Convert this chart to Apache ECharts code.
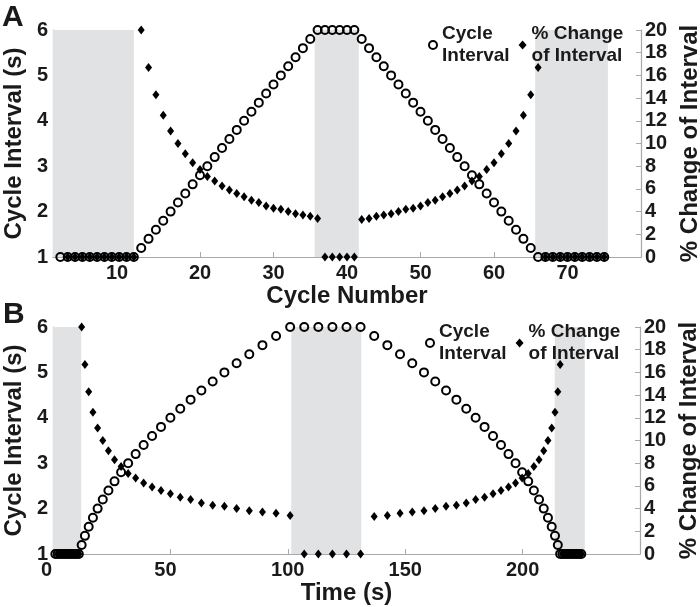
<!DOCTYPE html>
<html><head><meta charset="utf-8">
<script src="https://cdn.jsdelivr.net/npm/echarts@6/dist/echarts.min.js"></script>
<style>html,body{margin:0;padding:0;background:#fff}#c{width:700px;height:607px}</style>
</head><body><div id="c"></div>
<script>
// ---- data ----
const cycleNumbers = [1,2,3,4,5,6,7,8,9,10,11,12,13,14,15,16,17,18,19,20,21,22,23,24,25,26,27,28,29,30,31,32,33,34,35,36,37,38,39,40,41,42,43,44,45,46,47,48,49,50,51,52,53,54,55,56,57,58,59,60,61,62,63,64,65,66,67,68,69,70,71,72,73,74,75];
const cycleInterval = [1,1,1,1,1,1,1,1,1,1,1,
  1.2,1.4,1.6,1.8,2.0,2.2,2.4,2.6,2.8,3.0,3.2,3.4,3.6,3.8,4.0,4.2,4.4,4.6,4.8,5.0,5.2,5.4,5.6,5.8,
  6,6,6,6,6,6,
  5.8,5.6,5.4,5.2,5.0,4.8,4.6,4.4,4.2,4.0,3.8,3.6,3.4,3.2,3.0,2.8,2.6,2.4,2.2,2.0,1.8,1.6,1.4,1.2,
  1,1,1,1,1,1,1,1,1,1];
const pctChange = [null,0,0,0,0,0,0,0,0,0,0,
  20,16.7,14.3,12.5,11.1,10,9.1,8.3,7.7,7.1,6.7,6.25,5.9,5.6,5.3,5.0,4.8,4.5,4.3,4.2,4.0,3.8,3.7,3.6,3.4,
  0,0,0,0,0,
  3.3,3.4,3.6,3.7,3.8,4.0,4.2,4.3,4.5,4.8,5.0,5.3,5.6,5.9,6.25,6.7,7.1,7.7,8.3,9.1,10,11.1,12.5,14.3,16.7,
  0,0,0,0,0,0,0,0,0];
const timeSec = [1,2,3,4,5,6,7,8,9,10,11,
  12.2,13.6,15.2,17.0,19.0,21.2,23.6,26.2,29.0,32.0,35.2,38.6,42.2,46.0,50.0,54.2,58.6,63.2,68.0,73.0,78.2,83.6,89.2,95.0,
  101,107,113,119,125,131,
  136.8,142.4,147.8,153.0,158.0,162.8,167.4,171.8,176.0,180.0,183.8,187.4,190.8,194.0,197.0,199.8,202.4,204.8,207.0,209.0,210.8,212.4,213.8,215.0,
  216,217,218,219,220,221,222,223,224,225];
const shadedCycles = [[0,11],[35.6,41.6],[65.6,75.5]];
const shadedTime = [[0,12],[101.5,131.3],[213.7,226.5]];
const xTickLabelsA = [10,20,30,40,50,60,70];
const xTickLabelsB = [0,50,100,150,200];
const leftTickLabels = [1,2,3,4,5,6];
const rightTickLabels = [0,2,4,6,8,10,12,14,16,18,20];
const seriesNames = ['Cycle Interval','% Change of Interval'];
const legendText = {'Cycle Interval':'Cycle\nInterval','% Change of Interval':'% Change\nof Interval'};

// ---- styling ----
const F = '"Liberation Sans", Arial, Helvetica, sans-serif';
const AX = '#a9a9a9';
const TXT = '#1a1a1a';
const labelBase = {color:TXT, fontSize:20, fontWeight:'bold', fontFamily:F};

function richFor(pads){
  const r = {};
  pads.forEach(p => { r['p'+p] = Object.assign({padding:[0,p,0,0]}, labelBase); });
  return r;
}
function xAxisDef(gi, min, max, interval, labels, shifts, name){
  return {
    type:'value', gridIndex:gi, min, max, interval,
    name, nameLocation:'middle', nameGap:25,
    nameTextStyle:{color:TXT, fontSize:24, fontWeight:'bold', fontFamily:F},
    axisLine:{show:true, onZero:false, lineStyle:{color:AX, width:1.2}},
    axisTick:{show:true, inside:true, length:5, lineStyle:{color:AX}},
    splitLine:{show:false},
    axisLabel:Object.assign({margin:6, showMinLabel:true, showMaxLabel:true,
      formatter: v => labels.includes(v) ? (shifts[v] ? '{p'+shifts[v]+'|'+v+'}' : String(v)) : '',
      rich: richFor(Object.values(shifts))}, labelBase)
  };
}
function yAxisDef(gi, pos, min, max, interval, labels, name, gap){
  return {
    type:'value', gridIndex:gi, position:pos, min, max, interval,
    name, nameLocation:'middle', nameGap:gap,
    nameTextStyle:{color:TXT, fontSize:24, fontWeight:'bold', fontFamily:F},
    axisLine:{show:true, onZero:false, lineStyle:{color:AX, width:1.2}},
    axisTick:{show:true, inside:true, length:5, lineStyle:{color:AX}},
    splitLine:{show:false},
    axisLabel:Object.assign({margin:pos==='left'?5:4,
      formatter: v => labels.includes(v) ? String(v) : ''}, labelBase)
  };
}
function legendDef(left, top){
  return {
    left, top, orient:'horizontal', selectedMode:false,
    itemWidth:8, itemHeight:9, itemGap:9,
    data: seriesNames,
    formatter: n => legendText[n],
    textStyle:{color:TXT, fontSize:19, fontWeight:'bold', fontFamily:F, lineHeight:22}
  };
}
function circleSeries(xi, yi, xs, shaded){
  return {
    type:'scatter', name:seriesNames[0], xAxisIndex:xi, yAxisIndex:yi,
    symbol:'circle', symbolSize:8,
    itemStyle:{color:'rgba(255,255,255,0)', borderColor:'#000', borderWidth:2, opacity:1},
    data: xs.map((x,i)=>[x, cycleInterval[i]]),
    markArea:{silent:true, itemStyle:{color:'#e1e2e4', opacity:1},
      data: shaded.map(([a,b]) => [{xAxis:a},{xAxis:b}])}
  };
}
function diamondSeries(xi, yi, xs){
  return {
    type:'scatter', name:seriesNames[1], xAxisIndex:xi, yAxisIndex:yi,
    symbol:'diamond', symbolSize:[7,9],
    itemStyle:{color:'#000', opacity:1},
    data: xs.map((x,i)=>[x, pctChange[i]]).filter(d => d[1] !== null)
  };
}

const chart = echarts.init(document.getElementById('c'), null, {renderer:'canvas'});
chart.setOption({
  animation:false,
  backgroundColor:'#fff',
  grid:[
    {left:53, right:59, top:30, height:227, containLabel:false, outerBoundsMode:'none'},
    {left:53, right:60, top:327, height:227, containLabel:false, outerBoundsMode:'none'}
  ],
  xAxis:[
    xAxisDef(0, 0, 80, 10, xTickLabelsA, {10:19}, 'Cycle Number'),
    xAxisDef(1, 0, 250, 50, xTickLabelsB, {0:13, 50:10}, 'Time (s)')
  ],
  yAxis:[
    yAxisDef(0, 'left', 1, 6, 1, leftTickLabels, 'Cycle Interval (s)', 26),
    yAxisDef(0, 'right', 0, 20, 2, rightTickLabels, '% Change of Interval', 31),
    yAxisDef(1, 'left', 1, 6, 1, leftTickLabels, 'Cycle Interval (s)', 26),
    yAxisDef(1, 'right', 0, 20, 2, rightTickLabels, '% Change of Interval', 31)
  ],
  legend:[ legendDef(423, 18), legendDef(420, 316) ],
  graphic:[
    {type:'text', left:2, top:3, style:{text:'A', fill:TXT, font:'bold 30px '+F}},
    {type:'text', left:3, top:300, style:{text:'B', fill:TXT, font:'bold 30px '+F}}
  ],
  series:[
    circleSeries(0, 0, cycleNumbers, shadedCycles),
    diamondSeries(0, 1, cycleNumbers),
    circleSeries(1, 2, timeSec, shadedTime),
    diamondSeries(1, 3, timeSec)
  ]
});
</script></body></html>
